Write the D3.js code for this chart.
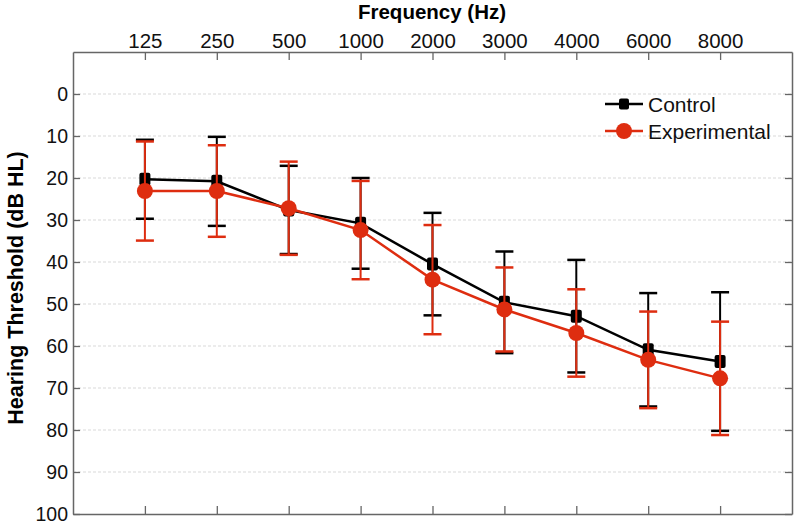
<!DOCTYPE html>
<html><head><meta charset="utf-8">
<script src="https://cdn.jsdelivr.net/npm/d3@7"></script>
<style>body{margin:0;background:#fff}svg{display:block}</style>
</head><body>
<script>
const frequencies = ["125","250","500","1000","2000","3000","4000","6000","8000"];
const controlMean = [20.3, 20.8, 27.6, 30.8, 40.5, 49.6, 52.9, 60.9, 63.7];
const controlSD   = [9.4, 10.6, 10.5, 10.8, 12.2, 12.1, 13.4, 13.5, 16.5];
const expMean     = [23.1, 23.1, 27.2, 32.4, 44.2, 51.3, 56.9, 63.3, 67.7];
const expSD       = [11.8, 10.9, 11.1, 11.7, 13.0, 10.0, 10.4, 11.5, 13.5];
const yTicks = [0,10,20,30,40,50,60,70,80,90,100];

const W = 800, H = 528;
const m = {l:73, r:8, t:52, b:14};
const svg = d3.select("body").append("svg").attr("width",W).attr("height",H);
const x = d3.scaleLinear().domain([-1, frequencies.length]).range([m.l, W-m.r]);
const y = d3.scaleLinear().domain([-10, 100]).range([m.t, H-m.b]);
const font = "Arial, 'Liberation Sans', sans-serif";
const red = "#de2d10";

// grid
svg.append("g").selectAll("line").data(yTicks.filter(d=>d<100)).join("line")
  .attr("x1",x.range()[0]).attr("x2",x.range()[1])
  .attr("y1",d=>y(d)).attr("y2",d=>y(d))
  .attr("stroke","#d9d9d9").attr("stroke-width",1).attr("stroke-dasharray","3,2");

const idx = frequencies.map((f,i)=>i);
// axes
const axTop = d3.axisTop(x).tickValues(idx).tickFormat(i=>frequencies[i]).tickSizeInner(-8).tickSizeOuter(0).tickPadding(4);
const axBot = d3.axisBottom(x).tickValues(idx).tickFormat("").tickSizeInner(-8).tickSizeOuter(0);
const axL = d3.axisLeft(y).tickValues(yTicks).tickSizeInner(-7).tickSizeOuter(0).tickPadding(5);
const axR = d3.axisRight(y).tickValues(yTicks).tickFormat("").tickSizeInner(-7).tickSizeOuter(0);
function style(g, fs){
  g.selectAll("path").attr("stroke","#666").attr("stroke-width",1.5);
  g.selectAll("line").attr("stroke","#666").attr("stroke-width",1.3);
  g.selectAll("text").attr("font-family",font).attr("font-size",fs).attr("fill","#111");
}
svg.append("g").attr("transform",`translate(0,${m.t})`).call(axTop).call(style, 20.5);
svg.append("g").attr("transform",`translate(0,${H-m.b})`).call(axBot).call(style, 20);
svg.append("g").attr("transform",`translate(${m.l},0)`).call(axL).call(style, 19.5);
svg.append("g").attr("transform",`translate(${W-m.r},0)`).call(axR).call(style, 20);

// titles
svg.append("text").attr("x",432).attr("y",19).attr("text-anchor","middle")
  .attr("font-family",font).attr("font-weight","bold").attr("font-size",20.5).text("Frequency (Hz)");
svg.append("text").attr("transform","translate(23,288) rotate(-90)").attr("text-anchor","middle")
  .attr("font-family",font).attr("font-weight","bold").attr("font-size",21.5).text("Hearing Threshold (dB HL)");

function series(mean, sd, color, shape){
  const g = svg.append("g");
  const data = mean.map((v,i)=>({i, v, sd: sd[i]}));
  // error bars
  const eb = g.selectAll("g.eb").data(data).join("g");
  eb.append("line").attr("x1",d=>x(d.i)).attr("x2",d=>x(d.i))
    .attr("y1",d=>y(d.v-d.sd)).attr("y2",d=>y(d.v+d.sd)).attr("stroke",color).attr("stroke-width",2);
  [-1,1].forEach(s=>{
    eb.append("line").attr("x1",d=>x(d.i)-9).attr("x2",d=>x(d.i)+9)
      .attr("y1",d=>y(d.v+s*d.sd)).attr("y2",d=>y(d.v+s*d.sd)).attr("stroke",color).attr("stroke-width",2.5);
  });
  g.append("path").datum(data).attr("fill","none").attr("stroke",color).attr("stroke-width",2.5)
    .attr("d",d3.line().x(d=>x(d.i)).y(d=>y(d.v)));
  if(shape==="square"){
    g.selectAll("rect").data(data).join("rect").attr("x",d=>x(d.i)-5.5).attr("y",d=>y(d.v)-6.5)
      .attr("width",11).attr("height",13).attr("rx",2).attr("fill",color);
  } else {
    g.selectAll("circle").data(data).join("circle").attr("cx",d=>x(d.i)).attr("cy",d=>y(d.v))
      .attr("r",8).attr("fill",color);
  }
}
series(controlMean, controlSD, "#000", "square");
series(expMean, expSD, red, "circle");

// legend
const leg = [{name:"Control",color:"#000",shape:"square",y:104},{name:"Experimental",color:red,shape:"circle",y:131}];
const lg = svg.append("g");
leg.forEach(l=>{
  lg.append("line").attr("x1",605).attr("x2",643).attr("y1",l.y).attr("y2",l.y).attr("stroke",l.color).attr("stroke-width",2.5);
  if(l.shape==="square") lg.append("rect").attr("x",619).attr("y",l.y-5.5).attr("width",10).attr("height",11).attr("rx",2).attr("fill",l.color);
  else lg.append("circle").attr("cx",624).attr("cy",l.y).attr("r",8).attr("fill",l.color);
  lg.append("text").attr("x",648).attr("y",l.y+7.5).attr("font-family",font).attr("font-size",21).attr("fill","#111").text(l.name);
});
</script>
</body></html>
